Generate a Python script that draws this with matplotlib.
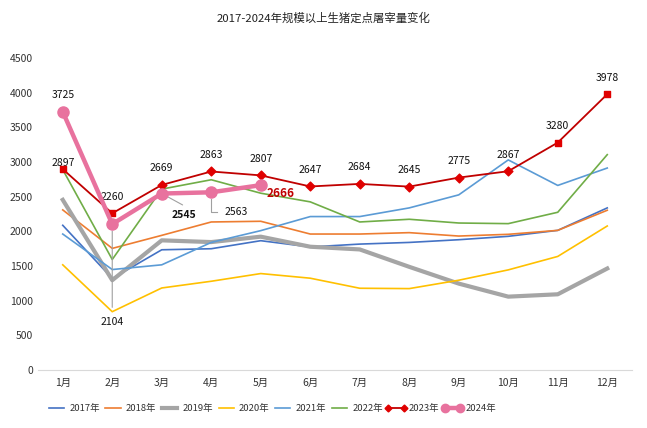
import matplotlib
matplotlib.use("Agg")
import matplotlib.pyplot as plt
from matplotlib.lines import Line2D

plt.rcParams['font.family'] = ['Noto Sans CJK SC', 'DejaVu Sans']

months = ['1月', '2月', '3月', '4月', '5月', '6月', '7月', '8月', '9月', '10月', '11月', '12月']
y2017 = [2087, 1320, 1734, 1749, 1865, 1775, 1816, 1840, 1879, 1928, 2014, 2338]
y2018 = [2309, 1754, 1942, 2135, 2145, 1961, 1961, 1981, 1932, 1957, 2014, 2304]
y2019 = [2454, 1295, 1870, 1845, 1923, 1778, 1739, 1488, 1246, 1058, 1092, 1464]
y2020 = [1517, 841, 1183, 1280, 1391, 1324, 1179, 1174, 1295, 1444, 1638, 2077]
y2021 = [1961, 1449, 1517, 1840, 2010, 2213, 2213, 2338, 2526, 3030, 2662, 2913]
y2022 = [2890, 1594, 2609, 2744, 2550, 2425, 2135, 2174, 2120, 2111, 2275, 3106]
y2023 = [2897, 2260, 2669, 2863, 2807, 2647, 2684, 2645, 2775, 2867, 3280, 3978]
y2024 = [3725, 2104, 2545, 2563, 2666]

x = list(range(1, 13))
x24 = x[:len(y2024)]

fig = plt.figure(figsize=(6.47, 4.28), dpi=100)
ax = fig.add_axes([38/647, 1-370/428, (632-38)/647, (370-58)/428])

ax.plot(x, y2017, color='#4472C4', lw=1.2, label='2017年')
ax.plot(x, y2018, color='#ED7D31', lw=1.2, label='2018年')
ax.plot(x, y2019, color='#A5A5A5', lw=3.0, label='2019年')
ax.plot(x, y2020, color='#FFC000', lw=1.2, label='2020年')
ax.plot(x, y2021, color='#5B9BD5', lw=1.2, label='2021年')
ax.plot(x, y2022, color='#70AD47', lw=1.2, label='2022年')

red_line = '#C00000'
red_mk = '#E00000'
ax.plot(x, y2023, color=red_line, lw=1.3, zorder=5)
sq = [0, 1, 10, 11]
dm = [i for i in range(12) if i not in sq]
ax.scatter([x[i] for i in sq], [y2023[i] for i in sq], marker='s', s=22, color=red_mk, zorder=6)
ax.scatter([x[i] for i in dm], [y2023[i] for i in dm], marker='D', s=20, color=red_mk, zorder=6)

pink = '#E8729E'
ax.plot(x24, y2024, color=pink, lw=3.2, marker='o', ms=8, zorder=7)

# 2023 labels
for i, (xi, yi) in enumerate(zip(x, y2023)):
    dy = 4.5 if i == 0 else 12
    ax.annotate(f'{yi}', (xi, yi), xytext=(0, dy), textcoords='offset points',
                ha='center', va='center', fontsize=7.5, color='#111111')

# 2024 labels
ax.annotate(f'{y2024[0]}', (x24[0], y2024[0]), xytext=(0, 12), textcoords='offset points',
            ha='center', va='center', fontsize=7.5, color='#111111')
ax.annotate(f'{y2024[1]}', (x24[1], y2024[1]), xytext=(0, -70.5), textcoords='offset points',
            ha='center', va='center', fontsize=7.5, color='#111111',
            arrowprops=dict(arrowstyle='-', color='#A0A0A0', lw=0.8, shrinkA=5, shrinkB=5))
ax.annotate(f'{y2024[2]}', (x24[2], y2024[2]), xytext=(7, -15.5), textcoords='offset points',
            ha='left', va='center', fontsize=7.5, color='#111111', fontweight='bold')
ax.annotate('', xy=(x24[2], y2024[2]), xytext=(15, -8.2), textcoords='offset points',
            arrowprops=dict(arrowstyle='-', color='#A0A0A0', lw=0.8, shrinkA=0, shrinkB=3))
ax.annotate(f'{y2024[3]}', (x24[3], y2024[3]), xytext=(9.4, -14.4), textcoords='offset points',
            ha='left', va='center', fontsize=7.5, color='#111111')
ax.plot([x24[3], x24[3], x24[3] + 0.12], [y2024[3] - 90, y2024[3] - 280, y2024[3] - 280],
        color='#A0A0A0', lw=0.8, zorder=4)
ax.annotate(f'{y2024[4]}', (x24[4], y2024[4]), xytext=(4.5, -6), textcoords='offset points',
            ha='left', va='center', fontsize=8.5, color='#C00000', fontweight='bold')

ax.set_xlim(0.5, 12.5)
ax.set_ylim(0, 4500)
ax.set_yticks(range(0, 4501, 500))
ax.set_xticks(x)
ax.set_xticklabels(months)
ax.tick_params(axis='both', length=0, labelsize=7.5, labelcolor='#333333')
ax.tick_params(axis='x', pad=6)
for s in ['top', 'right', 'left']:
    ax.spines[s].set_visible(False)
ax.spines['bottom'].set_color('#D9D9D9')

fig.text(0.5, 1 - 18/428, '2017-2024年规模以上生猪定点屠宰量变化', ha='center', va='center',
         fontsize=8.2, color='#222222')

handles = [
    Line2D([], [], color='#4472C4', lw=1.2),
    Line2D([], [], color='#ED7D31', lw=1.2),
    Line2D([], [], color='#A5A5A5', lw=3.0),
    Line2D([], [], color='#FFC000', lw=1.2),
    Line2D([], [], color='#5B9BD5', lw=1.2),
    Line2D([], [], color='#70AD47', lw=1.2),
    Line2D([], [], color=red_line, lw=1.3, marker='D', ms=3.5, mfc=red_mk, mec=red_mk),
    Line2D([], [], color=pink, lw=3.2, marker='o', ms=6),
]
labels = ['2017年', '2018年', '2019年', '2020年', '2021年', '2022年', '2023年', '2024年']
fig.legend(handles, labels, loc='center left', bbox_to_anchor=(46/647, 1 - 409/428), ncol=8,
           frameon=False, fontsize=6.8, handlelength=2.2, handletextpad=0.25, columnspacing=0.3,
           numpoints=2, borderpad=0, borderaxespad=0, labelcolor='#333333')

fig.savefig('out.png', dpi=100)
